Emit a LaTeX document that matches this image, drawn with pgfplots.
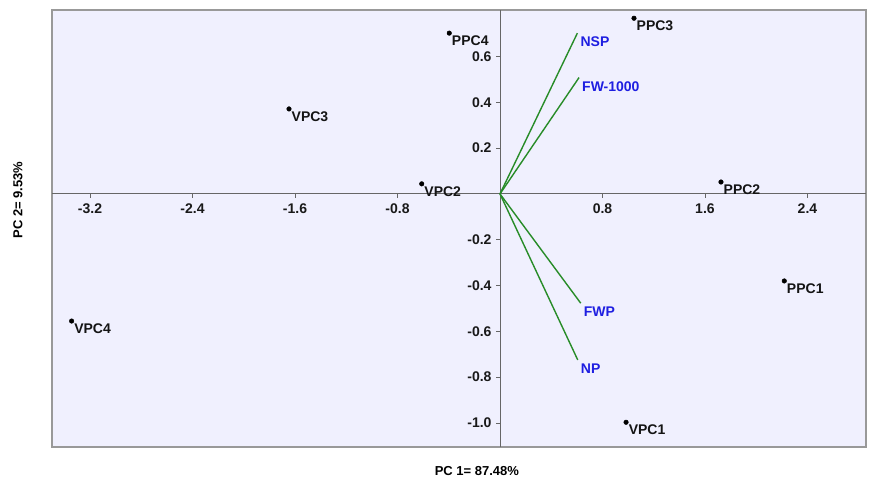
\documentclass[border=0pt]{standalone}
\usepackage{fontspec}
\setmainfont{Liberation Sans}
\usepackage{pgfplots}
\pgfplotsset{compat=1.18}
\definecolor{bgc}{RGB}{240,240,254}
\definecolor{vecg}{RGB}{40,140,40}
\definecolor{vecb}{RGB}{30,30,225}
\begin{document}
\begin{tikzpicture}
\begin{axis}[
  scale only axis, width=814pt, height=437pt,
  xmin=-3.497, xmax=2.857, ymin=-1.105, ymax=0.803,
  axis lines=middle,
  axis line style={-, draw=gray!80!black, line width=0.9pt},
  axis background/.style={fill=bgc, draw=gray!80, line width=1.2pt},
  xtick={-3.2,-2.4,-1.6,-0.8,0.8,1.6,2.4},
  xticklabels={-3.2,-2.4,-1.6,-0.8,0.8,1.6,2.4},
  ytick={-1.0,-0.8,-0.6,-0.4,-0.2,0.2,0.4,0.6},
  yticklabels={-1.0,-0.8,-0.6,-0.4,-0.2,0.2,0.4,0.6},
  tick align=outside, major tick length=4pt,
  tick style={draw=gray!80!black, line width=0.8pt},
  /pgf/number format/assume math mode=true,
  ticklabel style={font=\fontsize{14}{16}\selectfont\bfseries, text=black!90},
  xticklabel style={yshift=-2pt},
  yticklabel style={xshift=-1pt},
  xlabel={PC 1= 87.48\%}, ylabel={PC 2= 9.53\%},
  label style={font=\fontsize{13}{15}\selectfont\bfseries},
  xlabel style={at={(axis description cs:0.522,-0.054)}, anchor=center},
  ylabel style={at={(axis description cs:-0.042,0.565)}, anchor=center, rotate=90},
  clip=false,
]
% variable vectors
\addplot[vecg, line width=1.4pt] coordinates {(0,0) (0.604,0.702)};
\addplot[vecg, line width=1.4pt] coordinates {(0,0) (0.617,0.508)};
\addplot[vecg, line width=1.4pt] coordinates {(0,0) (0.630,-0.477)};
\addplot[vecg, line width=1.4pt] coordinates {(0,0) (0.607,-0.725)};
\addplot[only marks, mark=none,
  nodes near coords, point meta=explicit symbolic,
  every node near coord/.style={anchor=north west, inner sep=0pt, xshift=3pt, yshift=-3.5pt,
    font=\fontsize{14}{16}\selectfont\bfseries, text=vecb}]
  table[meta=lab] {
x y lab
0.604 0.702 NSP
0.617 0.508 FW-1000
0.630 -0.477 FWP
0.607 -0.725 NP
};
% observations
\addplot[only marks, mark=*, mark size=2.3pt, black,
  nodes near coords, point meta=explicit symbolic,
  every node near coord/.style={anchor=north west, inner sep=0pt, xshift=2.5pt, yshift=-2.5pt,
    font=\fontsize{14}{16}\selectfont\bfseries, text=black!92}]
  table[meta=lab] {
x y lab
-0.396 0.702 PPC4
1.046 0.767 PPC3
-1.647 0.371 VPC3
-0.611 0.044 VPC2
1.725 0.052 PPC2
2.219 -0.380 PPC1
-3.344 -0.555 VPC4
0.984 -0.997 VPC1
};
\end{axis}
\path ([xshift=-52pt,yshift=-33pt]current axis.south west) rectangle ([xshift=3pt,yshift=10pt]current axis.north east);
\end{tikzpicture}
\end{document}
